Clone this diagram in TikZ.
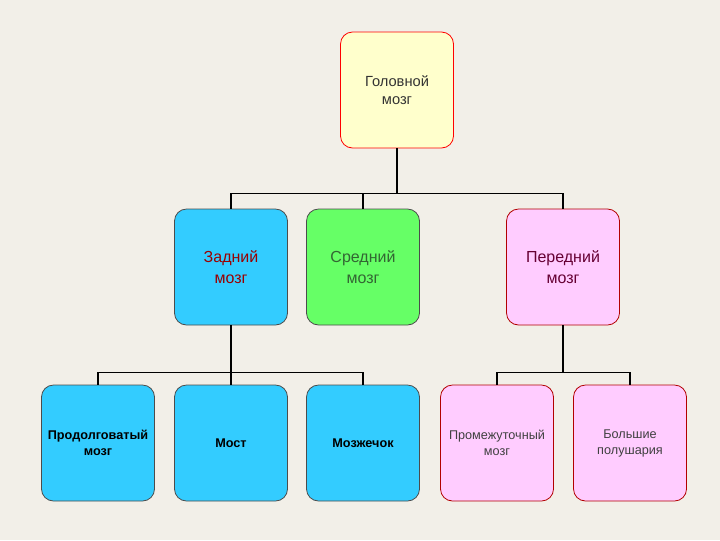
\documentclass[tikz,border=0pt]{standalone}
\usepackage{fontspec}
\setmainfont{Liberation Sans}
\begin{document}
\begin{tikzpicture}[x=0.75pt,y=-0.75pt,
  box/.style={draw=#1,line width=0.6pt,rounded corners=9pt,minimum width=113pt*0.75,minimum height=116pt*0.75,align=center,inner sep=1pt},
  ln/.style={line width=1.2pt,black}]
\fill[fill={rgb,255:red,242;green,239;blue,232}] (0,0) rectangle (720,540);
\useasboundingbox (0,0) rectangle (720,540);
\definecolor{cyb}{RGB}{51,204,255}
\definecolor{grb}{RGB}{102,255,102}
\definecolor{pkb}{RGB}{255,204,255}
\definecolor{ylb}{RGB}{255,255,204}
\node[box=red,fill=ylb,font=\fontsize{11}{14}\selectfont,text=black!80] (top) at (397,90) {Головной\\мозг};
\node[box=black!70,fill=cyb,text={rgb,255:red,153;green,0;blue,0},font=\fontsize{12}{16}\selectfont] (zad) at (231,267) {Задний\\мозг};
\node[box=black!70,fill=grb,text={rgb,255:red,51;green,102;blue,51},font=\fontsize{12}{16}\selectfont] (sre) at (363,267) {Средний\\мозг};
\node[box=red!70!black,fill=pkb,text={rgb,255:red,102;green,0;blue,51},font=\fontsize{12}{16}\selectfont] (per) at (563,267) {Передний\\мозг};
\node[box=black!70,fill=cyb,font=\bfseries\fontsize{9.5}{12}\selectfont] (pro) at (98,443) {Продолговатый\\мозг};
\node[box=black!70,fill=cyb,font=\bfseries\fontsize{9.5}{12}\selectfont] (mos) at (231,443) {Мост};
\node[box=black!70,fill=cyb,font=\bfseries\fontsize{9.5}{12}\selectfont] (moz) at (363,443) {Мозжечок};
\node[box=red!70!black,fill=pkb,text=black!75,font=\fontsize{9.5}{12}\selectfont] (pro2) at (497,443) {Промежуточный\\мозг};
\node[box=red!70!black,fill=pkb,text=black!75,font=\fontsize{9.5}{12}\selectfont] (bol) at (630,443) {Большие\\полушария};
\draw[ln] (top.south) -- ++(0,45) coordinate (j1);
\draw[ln] (zad.north) |- (j1) -| (per.north);
\draw[ln] (sre.north) -- (sre.north |- j1);
\draw[ln] (zad.south) -- ++(0,47) coordinate (j2);
\draw[ln] (pro.north) |- (j2) -| (moz.north);
\draw[ln] (mos.north) -- (j2);
\draw[ln] (per.south) -- ++(0,47) coordinate (j3);
\draw[ln] (pro2.north) |- (j3) -| (bol.north);
\end{tikzpicture}
\end{document}
